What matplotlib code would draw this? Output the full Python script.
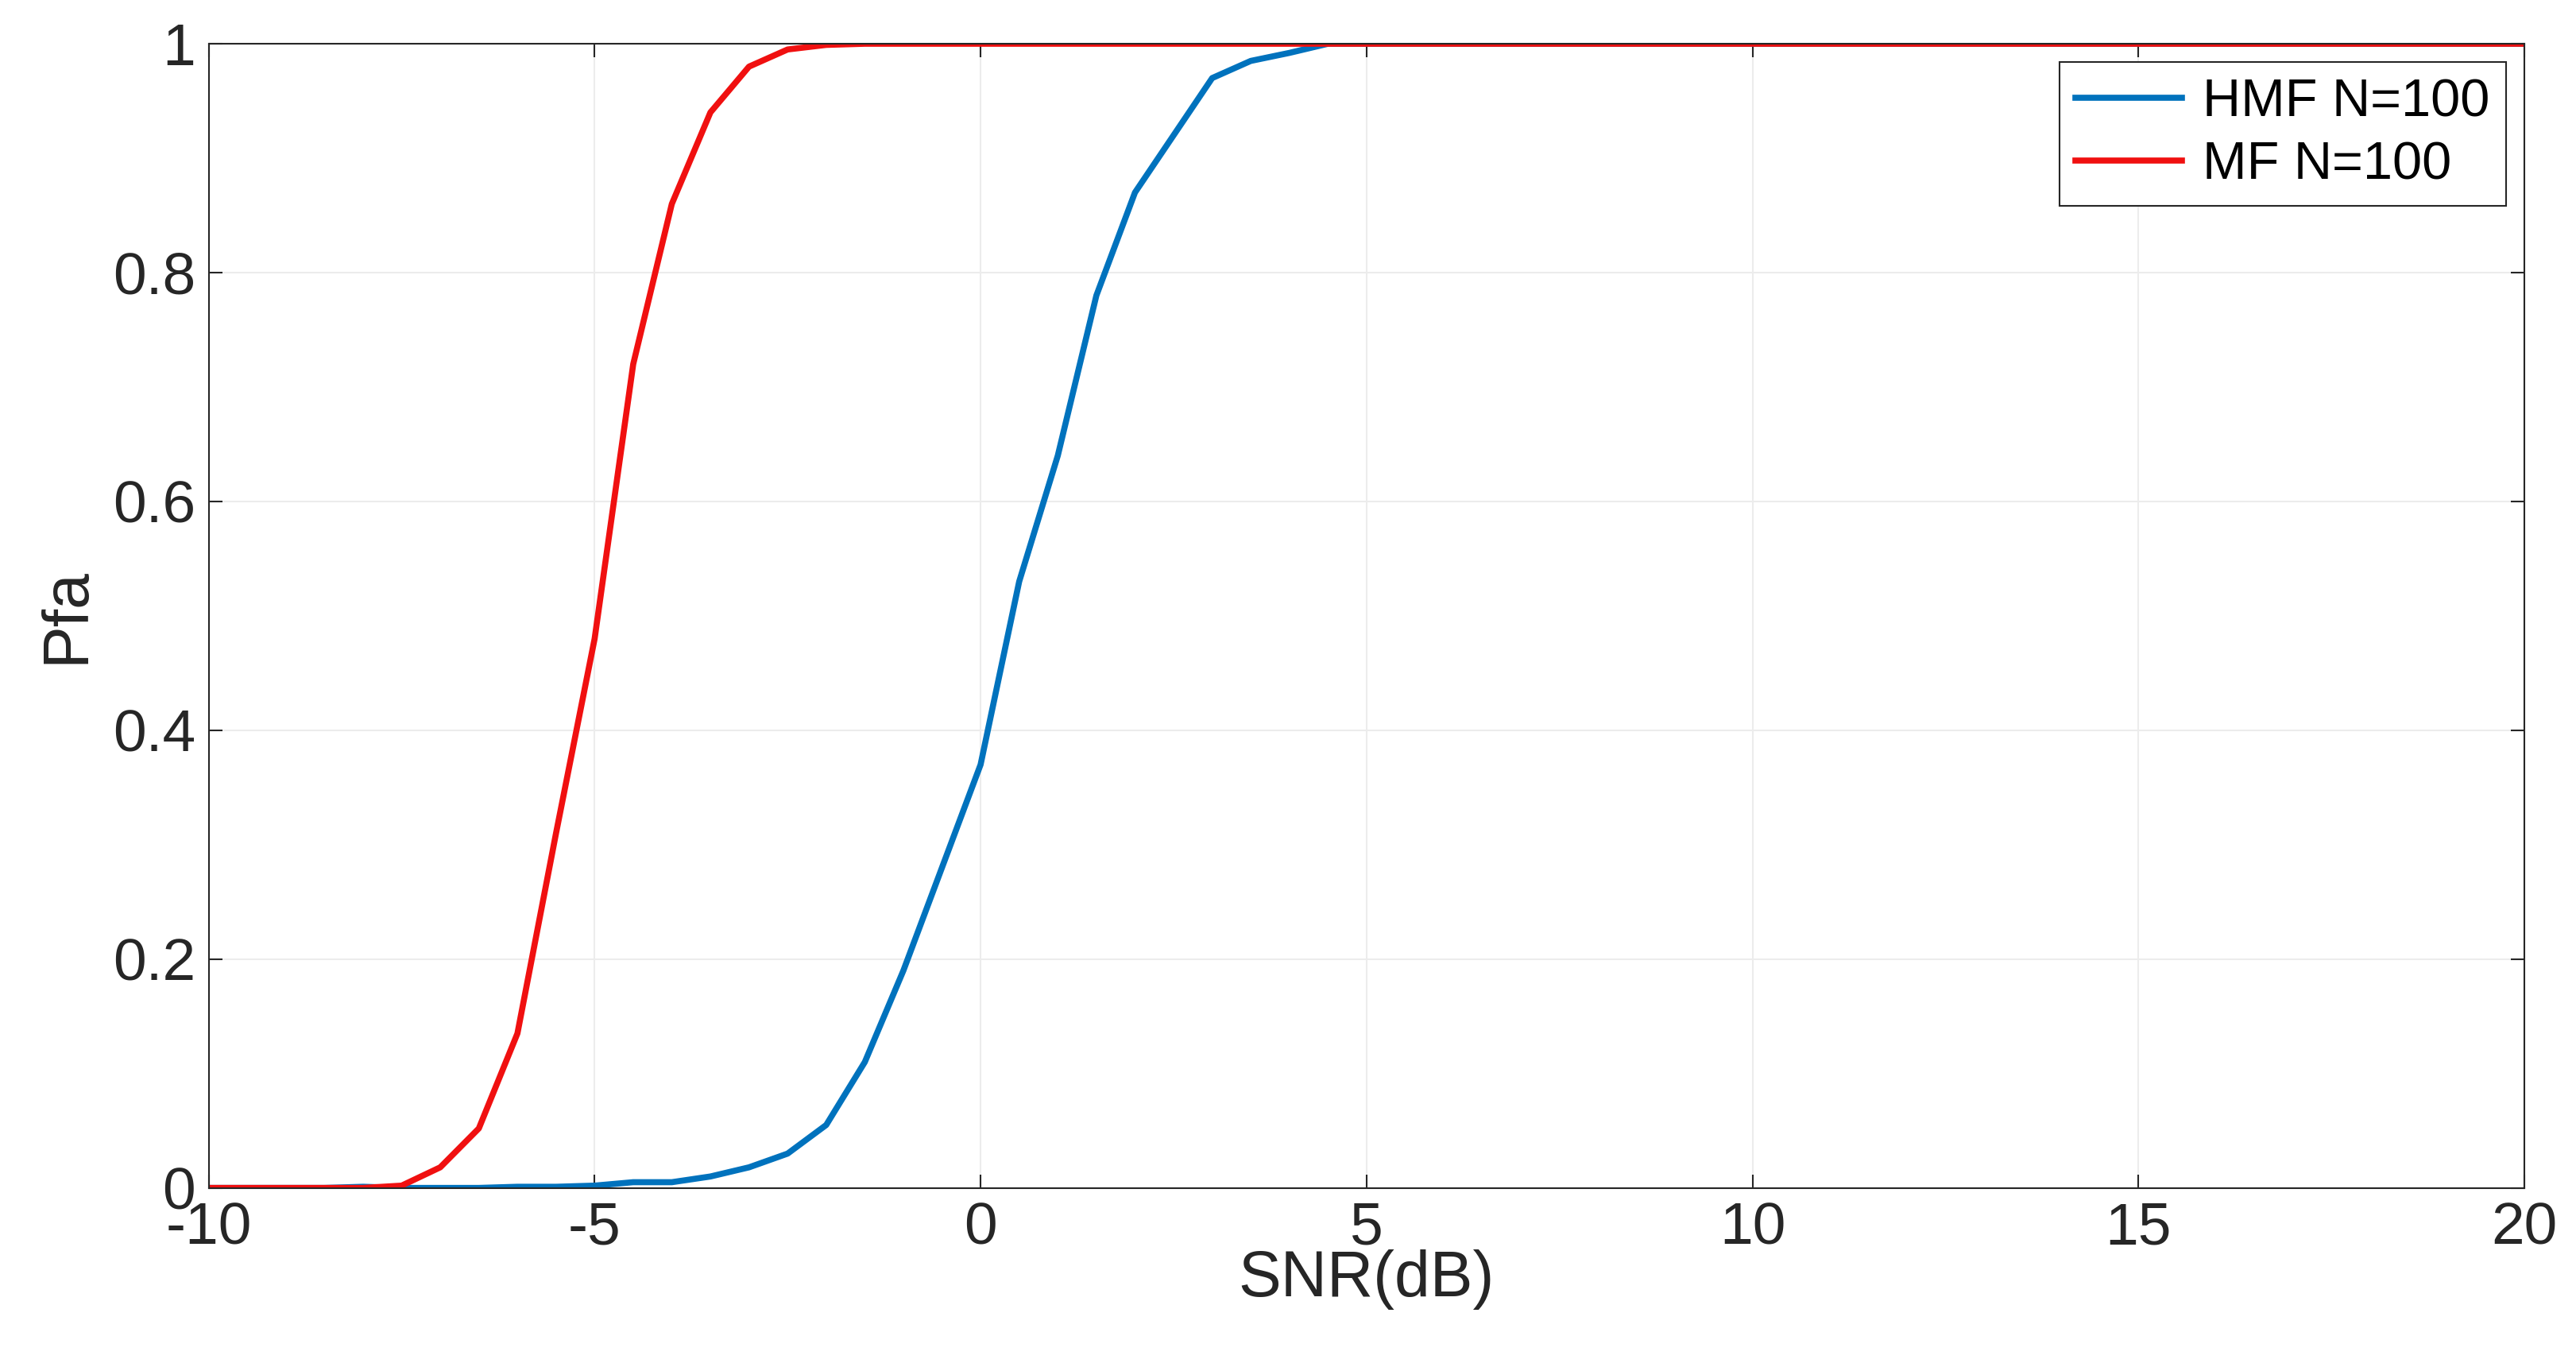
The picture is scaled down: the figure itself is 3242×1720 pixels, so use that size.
import numpy as np
import matplotlib.pyplot as plt

plt.rcParams['font.family'] = ['Liberation Sans', 'DejaVu Sans']
plt.rcParams['axes.unicode_minus'] = False

snr = np.arange(-10, 20.5, 0.5)
# values, from -10 dB upward; 1 after the listed points
hmf_head = [0, 0, 0, 0, 0.001, 0, 0, 0, 0.001, 0.001, 0.002, 0.005, 0.005, 0.01, 0.018, 0.03,
            0.055, 0.11, 0.19, 0.28, 0.37, 0.53, 0.64, 0.78, 0.87, 0.92, 0.97, 0.985, 0.992, 1.0]
mf_head = [0, 0, 0, 0, 0, 0.002, 0.018, 0.052, 0.135, 0.31, 0.48, 0.72, 0.86, 0.94,
           0.98, 0.995, 0.999, 1.0]
hmf = hmf_head + [1.0] * (len(snr) - len(hmf_head))
mf = mf_head + [1.0] * (len(snr) - len(mf_head))

fig = plt.figure(figsize=(32.42, 17.2), dpi=100)
ax = fig.add_axes([0.081, 0.131, 0.899, 0.837])
ax.plot(snr, hmf, color='#0072BD', lw=5.5, label='HMF N=100')
ax.plot(snr, mf, color='#F01010', lw=5.5, label='MF N=100')
ax.set_xlim(-10, 20)
ax.set_ylim(0, 1)
ax.set_xticks([-10, -5, 0, 5, 10, 15, 20])
ax.set_yticks([0, 0.2, 0.4, 0.6, 0.8, 1])
ax.set_yticklabels(['0', '0.2', '0.4', '0.6', '0.8', '1'])
ax.tick_params(labelsize=54, direction='in', length=12, width=1.5, pad=12,
               colors='#262626', top=True, right=True)
ax.grid(True, color='#ececec', lw=1.5)
for s in ax.spines.values():
    s.set_color('#262626')
    s.set_linewidth(1.5)
ax.set_xlabel('SNR(dB)', fontsize=58, color='#262626', labelpad=-6)
ax.set_ylabel('Pfa', fontsize=58, color='#262626', labelpad=14)
leg = ax.legend(loc='upper right', fontsize=48, fancybox=False, framealpha=1,
                edgecolor='#262626', handlelength=2.0, handletextpad=0.4,
                borderaxespad=0.35, borderpad=0.3, labelspacing=0.25)
leg.get_frame().set_linewidth(1.5)
fig.savefig('out.png')
